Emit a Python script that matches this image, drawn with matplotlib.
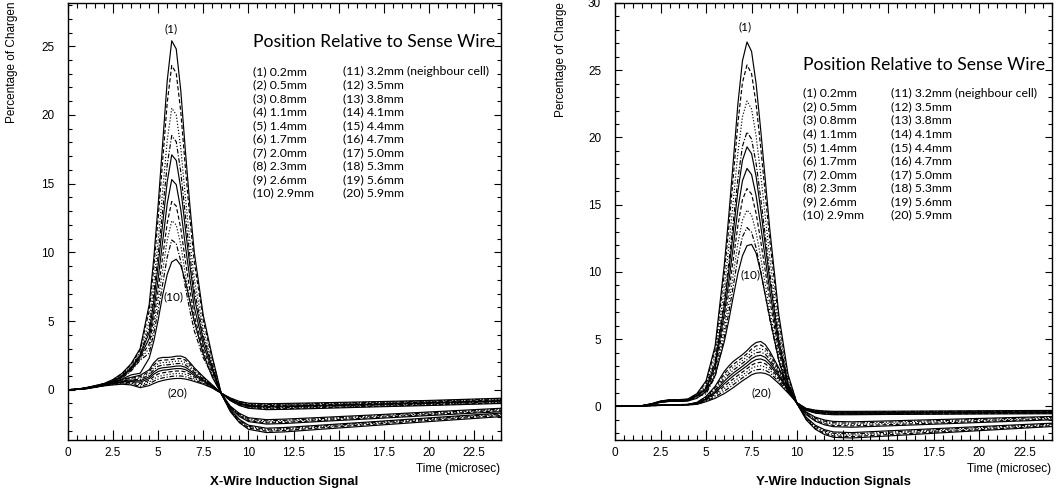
import matplotlib
matplotlib.use("Agg")
import matplotlib.pyplot as plt
from matplotlib.ticker import MultipleLocator, FuncFormatter

plt.rcParams['font.family'] = ['Liberation Sans', 'DejaVu Sans']

# time grids (microsec)
t_x = [0, 0.5, 1, 1.5, 2, 2.5, 3, 3.5, 4, 4.5, 4.75, 5, 5.25, 5.5, 5.75, 6, 6.25, 6.5,
       6.75, 7, 7.5, 8, 8.5, 9, 9.5, 10, 11, 12, 14, 17, 20, 24]
t_y = [0, 1, 1.5, 2, 2.5, 3, 3.5, 4, 4.5, 5, 5.5, 6, 6.25, 6.5, 6.75, 7, 7.25, 7.5, 7.75,
       8, 8.25, 8.5, 9, 9.5, 10, 10.5, 11, 11.5, 12, 13, 15, 18, 21, 24]

# X-wire, positions (1)-(10)
x_near = [
    [0, .03, .1, .25, .45, .75, 1.2, 1.9, 3.0, 6.2, 9.5, 13.5, 18.0, 22.5, 25.4, 24.8, 21.8, 17.5, 13.5, 10.0, 5.4, 2.4, -.3, -1.6, -2.4, -2.88, -3.12, -3.07, -2.88, -2.6, -2.32, -1.96],
    [0, .03, .1, .24, .43, .72, 1.16, 1.83, 2.9, 5.76, 8.83, 12.54, 16.72, 20.9, 23.6, 23.04, 20.25, 16.26, 12.54, 9.29, 5.02, 2.23, -.3, -1.55, -2.32, -2.79, -3.02, -2.97, -2.78, -2.51, -2.23, -1.88],
    [0, .03, .09, .23, .41, .68, 1.08, 1.72, 2.71, 5.0, 7.67, 10.9, 14.53, 18.16, 20.5, 20.01, 17.59, 14.12, 10.9, 8.07, 4.36, 1.94, -.3, -1.52, -2.27, -2.72, -2.95, -2.9, -2.72, -2.45, -2.17, -1.82],
    [0, .03, .09, .22, .39, .65, 1.04, 1.64, 2.59, 4.51, 6.92, 9.83, 13.1, 16.38, 18.5, 18.05, 15.87, 12.74, 9.83, 7.28, 3.93, 1.75, -.3, -1.48, -2.22, -2.66, -2.88, -2.83, -2.65, -2.38, -2.11, -1.76],
    [0, .03, .08, .21, .38, .63, 1.0, 1.59, 2.51, 4.17, 6.39, 9.09, 12.11, 15.14, 17.1, 16.69, 14.67, 11.78, 9.09, 6.73, 3.63, 1.62, -.3, -1.45, -2.16, -2.58, -2.8, -2.75, -2.58, -2.32, -2.05, -1.7],
    [0, .02, .08, .2, .36, .6, .96, 1.52, 2.4, 3.73, 5.72, 8.13, 10.84, 13.55, 15.3, 14.93, 13.12, 10.54, 8.13, 6.02, 3.25, 1.44, -.3, -1.33, -1.95, -2.32, -2.5, -2.46, -2.31, -2.1, -1.88, -1.6],
    [0, .02, .08, .19, .35, .58, .92, 1.46, 2.31, 3.34, 5.12, 7.28, 9.7, 12.13, 13.7, 13.37, 11.75, 9.43, 7.28, 5.39, 2.91, 1.29, -.3, -1.3, -1.89, -2.25, -2.42, -2.38, -2.24, -2.03, -1.81, -1.53],
    [0, .02, .07, .19, .33, .56, .89, 1.41, 2.23, 3.0, 4.6, 6.53, 8.71, 10.89, 12.3, 12.0, 10.55, 8.47, 6.53, 4.84, 2.61, 1.16, -.3, -1.27, -1.84, -2.19, -2.35, -2.31, -2.17, -1.97, -1.75, -1.47],
    [0, .02, .07, .18, .32, .54, .86, 1.36, 2.15, 2.66, 4.08, 5.79, 7.72, 9.65, 10.9, 10.64, 9.35, 7.51, 5.79, 4.29, 2.32, 1.03, -.3, -1.23, -1.78, -2.12, -2.27, -2.23, -2.1, -1.9, -1.69, -1.41],
    [0, .02, .07, .17, .3, .5, .78, 1.08, 1.2, 2.3, 3.5, 5.1, 6.9, 8.4, 9.3, 9.5, 9.05, 7.95, 6.45, 5.0, 2.6, .9, -.3, -1.2, -1.72, -2.04, -2.18, -2.14, -2.02, -1.83, -1.62, -1.35],
]

# X-wire, positions (11)-(20), neighbour cell
x_neigh = [
    [0, .04, .15, .3, .45, .6, .75, .9, 1.05, 1.45, 1.95, 2.28, 2.35, 2.35, 2.38, 2.44, 2.45, 2.33, 2.0, 1.6, .95, .35, -.26, -.8, -1.15, -1.35, -1.45, -1.43, -1.36, -1.25, -1.15, -1.0],
    [0, .04, .14, .29, .43, .57, .71, .84, .95, 1.32, 1.78, 2.09, 2.16, 2.17, 2.2, 2.26, 2.27, 2.16, 1.86, 1.49, .89, .32, -.26, -.78, -1.12, -1.31, -1.4, -1.38, -1.31, -1.21, -1.11, -.96],
    [0, .04, .14, .28, .41, .54, .67, .78, .85, 1.19, 1.62, 1.9, 1.98, 1.99, 2.03, 2.08, 2.09, 1.99, 1.71, 1.38, .83, .3, -.26, -.76, -1.08, -1.27, -1.35, -1.33, -1.27, -1.17, -1.07, -.92],
    [0, .04, .13, .27, .39, .52, .63, .72, .75, 1.07, 1.45, 1.71, 1.79, 1.81, 1.85, 1.9, 1.91, 1.81, 1.57, 1.27, .77, .27, -.26, -.73, -1.05, -1.23, -1.31, -1.29, -1.22, -1.12, -1.03, -.87],
    [0, .04, .13, .26, .37, .49, .59, .66, .65, .94, 1.28, 1.52, 1.6, 1.63, 1.67, 1.72, 1.73, 1.64, 1.42, 1.16, .71, .25, -.26, -.71, -1.02, -1.19, -1.26, -1.24, -1.18, -1.08, -.99, -.83],
    [0, .03, .12, .24, .36, .46, .56, .59, .55, .81, 1.12, 1.33, 1.42, 1.45, 1.5, 1.54, 1.54, 1.47, 1.28, 1.04, .64, .22, -.26, -.69, -.98, -1.14, -1.21, -1.19, -1.13, -1.04, -.94, -.79],
    [0, .03, .12, .23, .34, .43, .52, .53, .45, .68, .95, 1.15, 1.23, 1.28, 1.32, 1.36, 1.36, 1.3, 1.13, .93, .58, .2, -.26, -.67, -.95, -1.1, -1.16, -1.14, -1.09, -1.0, -.9, -.75],
    [0, .03, .11, .22, .32, .41, .48, .47, .35, .56, .78, .96, 1.04, 1.1, 1.14, 1.18, 1.18, 1.12, .99, .82, .52, .17, -.26, -.64, -.92, -1.06, -1.12, -1.1, -1.04, -.95, -.86, -.7],
    [0, .03, .11, .21, .3, .38, .44, .41, .25, .43, .62, .77, .86, .92, .97, 1.0, 1.0, .95, .84, .71, .46, .15, -.26, -.62, -.88, -1.02, -1.07, -1.05, -1.0, -.91, -.82, -.66],
    [0, .03, .1, .2, .28, .35, .4, .35, .15, .3, .45, .58, .67, .74, .79, .82, .82, .78, .7, .6, .4, .12, -.26, -.6, -.85, -.98, -1.02, -1.0, -.95, -.87, -.78, -.62],
]

# Y-wire, positions (1)-(10)
y_near = [
    [0, .02, .06, .2, .4, .5, .5, .55, .95, 1.9, 4.5, 10.5, 14.2, 18.3, 22.5, 25.7, 27.1, 26.4, 24.0, 20.6, 16.9, 13.2, 6.8, 2.4, .2, -1.0, -1.7, -2.09, -2.3, -2.35, -2.2, -1.96, -1.73, -1.5],
    [0, .02, .06, .19, .39, .48, .48, .53, .92, 1.78, 4.22, 9.84, 13.31, 17.15, 21.08, 24.08, 25.39, 24.74, 22.49, 19.3, 15.84, 12.37, 6.37, 2.25, .2, -.95, -1.63, -2.0, -2.2, -2.25, -2.1, -1.88, -1.66, -1.44],
    [0, .02, .06, .18, .37, .46, .46, .51, .87, 1.59, 3.77, 8.8, 11.9, 15.34, 18.86, 21.54, 22.71, 22.12, 20.11, 17.26, 14.16, 11.06, 5.7, 2.01, .2, -.9, -1.55, -1.91, -2.1, -2.15, -2.01, -1.8, -1.59, -1.38],
    [0, .02, .05, .18, .35, .44, .44, .48, .83, 1.43, 3.39, 7.91, 10.69, 13.78, 16.94, 19.35, 20.41, 19.88, 18.07, 15.51, 12.73, 9.94, 5.12, 1.81, .2, -.85, -1.48, -1.82, -2.0, -2.05, -1.92, -1.71, -1.51, -1.31],
    [0, .02, .05, .17, .34, .43, .43, .47, .81, 1.35, 3.2, 7.48, 10.11, 13.03, 16.02, 18.3, 19.3, 18.8, 17.09, 14.67, 12.03, 9.4, 4.84, 1.71, .2, -.81, -1.4, -1.73, -1.9, -1.95, -1.82, -1.63, -1.44, -1.25],
    [0, .02, .05, .17, .33, .41, .41, .45, .79, 1.24, 2.94, 6.86, 9.27, 11.95, 14.69, 16.78, 17.7, 17.24, 15.67, 13.45, 11.04, 8.62, 4.44, 1.57, .2, -.61, -1.1, -1.37, -1.51, -1.55, -1.45, -1.3, -1.15, -1.0],
    [0, .02, .05, .16, .32, .4, .4, .44, .76, 1.14, 2.69, 6.28, 8.49, 10.94, 13.46, 15.37, 16.2, 15.79, 14.35, 12.32, 10.11, 7.89, 4.07, 1.44, .2, -.57, -1.03, -1.28, -1.42, -1.45, -1.36, -1.22, -1.08, -.94],
    [0, .02, .05, .15, .31, .38, .38, .42, .73, 1.02, 2.43, 5.66, 7.65, 9.86, 12.13, 13.85, 14.6, 14.23, 12.94, 11.1, 9.11, 7.11, 3.67, 1.29, .2, -.52, -.95, -1.19, -1.32, -1.35, -1.27, -1.14, -1.01, -.88],
    [0, .01, .04, .15, .3, .37, .37, .41, .71, .93, 2.21, 5.16, 6.97, 8.99, 11.05, 12.62, 13.3, 12.96, 11.78, 10.11, 8.3, 6.48, 3.34, 1.18, .2, -.47, -.88, -1.1, -1.22, -1.25, -1.17, -1.05, -.93, -.81],
    [0, .02, .05, .15, .3, .37, .37, .4, .6, 1.1, 2.3, 4.8, 6.4, 8.2, 9.9, 11.2, 11.95, 12.05, 11.4, 10.0, 8.3, 6.6, 3.4, 1.3, .2, -.42, -.8, -1.01, -1.12, -1.15, -1.08, -.97, -.86, -.75],
]

# Y-wire, positions (11)-(20), neighbour cell
y_neigh = [
    [0, .02, .05, .08, .1, .12, .13, .15, .3, .74, 1.5, 2.6, 3.0, 3.35, 3.6, 3.85, 4.15, 4.5, 4.75, 4.83, 4.6, 4.1, 2.85, 1.5, .25, -.3, -.5, -.58, -.62, -.62, -.6, -.58, -.56, -.55],
    [0, .02, .05, .08, .1, .12, .13, .15, .28, .7, 1.4, 2.42, 2.8, 3.13, 3.38, 3.63, 3.92, 4.26, 4.5, 4.57, 4.36, 3.9, 2.72, 1.44, .25, -.28, -.48, -.55, -.59, -.59, -.57, -.55, -.53, -.52],
    [0, .02, .05, .07, .09, .11, .12, .14, .27, .65, 1.3, 2.23, 2.59, 2.92, 3.17, 3.42, 3.7, 4.02, 4.24, 4.31, 4.12, 3.7, 2.59, 1.39, .25, -.27, -.45, -.53, -.56, -.56, -.55, -.53, -.51, -.49],
    [0, .02, .04, .07, .09, .11, .12, .14, .25, .61, 1.2, 2.05, 2.39, 2.7, 2.95, 3.2, 3.47, 3.78, 3.99, 4.05, 3.88, 3.5, 2.47, 1.33, .25, -.25, -.43, -.5, -.54, -.54, -.52, -.5, -.48, -.47],
    [0, .02, .04, .07, .09, .11, .12, .13, .23, .57, 1.1, 1.87, 2.19, 2.48, 2.73, 2.98, 3.25, 3.55, 3.74, 3.8, 3.65, 3.3, 2.34, 1.28, .25, -.23, -.4, -.47, -.51, -.51, -.49, -.47, -.45, -.44],
    [0, .01, .04, .06, .08, .1, .11, .13, .22, .52, 1.0, 1.68, 1.98, 2.27, 2.52, 2.77, 3.02, 3.3, 3.48, 3.53, 3.4, 3.1, 2.21, 1.22, .25, -.22, -.38, -.45, -.48, -.48, -.47, -.45, -.43, -.41],
    [0, .01, .04, .06, .08, .1, .11, .12, .2, .48, .9, 1.5, 1.78, 2.05, 2.3, 2.55, 2.8, 3.07, 3.23, 3.28, 3.17, 2.9, 2.08, 1.17, .25, -.2, -.35, -.42, -.45, -.45, -.44, -.42, -.4, -.38],
    [0, .01, .03, .06, .08, .1, .11, .12, .18, .44, .8, 1.32, 1.58, 1.83, 2.08, 2.33, 2.57, 2.83, 2.98, 3.02, 2.93, 2.7, 1.96, 1.11, .25, -.18, -.33, -.39, -.43, -.43, -.41, -.39, -.37, -.36],
    [0, .01, .03, .05, .07, .09, .1, .11, .17, .39, .7, 1.13, 1.37, 1.62, 1.87, 2.12, 2.35, 2.59, 2.72, 2.76, 2.69, 2.5, 1.83, 1.06, .25, -.17, -.3, -.37, -.4, -.4, -.39, -.37, -.35, -.33],
    [0, .01, .03, .05, .07, .09, .1, .11, .15, .35, .6, .95, 1.17, 1.4, 1.65, 1.9, 2.12, 2.35, 2.47, 2.5, 2.45, 2.3, 1.7, 1.0, .25, -.15, -.28, -.34, -.37, -.37, -.36, -.34, -.32, -.3],
]

left_col = ["(1) 0.2mm", "(2) 0.5mm", "(3) 0.8mm", "(4) 1.1mm", "(5) 1.4mm",
            "(6) 1.7mm", "(7) 2.0mm", "(8) 2.3mm", "(9) 2.6mm", "(10) 2.9mm"]
right_col = ["(11) 3.2mm (neighbour cell)", "(12) 3.5mm", "(13) 3.8mm", "(14) 4.1mm",
             "(15) 4.4mm", "(16) 4.7mm", "(17) 5.0mm", "(18) 5.3mm", "(19) 5.6mm", "(20) 5.9mm"]

# line style of each curve inside a group of ten
dot = (0, (1, 1.6))
dash = (0, (3.5, 2))
dashdot = (0, (4, 1.5, 1, 1.5))
styles = ['-', dash, dot, dashdot, '-', '-', dash, dot, dashdot, '-']

legend_font = ['Lato', 'DejaVu Sans']

fig = plt.figure(figsize=(10.56, 4.92), dpi=100)
ax1 = fig.add_axes([68/1056, 1-440/492, 433/1056, 437/492])
ax2 = fig.add_axes([615/1056, 1-440/492, 437/1056, 437/492])


def draw(ax, t, near, neigh, ylim, marks, leg):
    for i, v in enumerate(near):
        ax.plot(t, v, color='black', lw=0.85, ls=styles[i])
    for i, v in enumerate(neigh):
        ax.plot(t, v, color='black', lw=0.85, ls=styles[i])
    ax.set_xlim(0, 24)
    ax.set_ylim(*ylim)
    ax.xaxis.set_major_locator(MultipleLocator(2.5))
    ax.xaxis.set_minor_locator(MultipleLocator(0.5))
    ax.yaxis.set_major_locator(MultipleLocator(5))
    ax.yaxis.set_minor_locator(MultipleLocator(1))
    ax.xaxis.set_major_formatter(FuncFormatter(lambda v, p: '%g' % v))
    ax.yaxis.set_major_formatter(FuncFormatter(lambda v, p: '%g' % v))
    ax.tick_params(which='both', direction='in', top=True, right=True, width=0.8,
                   labelsize=8.5)
    ax.tick_params(axis='x', which='major', length=7, pad=5)
    ax.tick_params(axis='x', which='minor', length=3.5)
    ax.tick_params(axis='y', which='major', length=5, pad=10)
    ax.tick_params(axis='y', which='minor', length=3)
    for s in ax.spines.values():
        s.set_linewidth(1.0)
    for txt, x, y in marks:
        ax.text(x, y, txt, ha='center', va='center', fontsize=8.5, family=legend_font)
    tx, ty, cx, ry, dy = leg
    ax.text(tx, ty, "Position Relative to Sense Wire", transform=ax.transAxes,
            ha='left', va='center', fontsize=12.6, family=legend_font)
    for j in range(10):
        ax.text(tx, ry - j*dy, left_col[j], transform=ax.transAxes, ha='left',
                va='center', fontsize=8.8, family=legend_font)
        ax.text(cx, ry - j*dy, right_col[j], transform=ax.transAxes, ha='left',
                va='center', fontsize=8.8, family=legend_font)


draw(ax1, t_x, x_near, x_neigh, (-3.66, 28.15),
     [("(1)", 5.74, 26.25), ("(10)", 5.84, 6.77), ("(20)", 6.04, -0.22)],
     (0.4266, 0.9115, 0.6358, 0.8428, 0.0309))
draw(ax2, t_y, y_near, y_neigh, (-2.5, 30),
     [("(1)", 7.14, 28.2), ("(10)", 7.45, 9.79), ("(20)", 8.06, 1.04)],
     (0.4295, 0.858, 0.6316, 0.7934, 0.0309))

fig.text(12/1056, 1-123/492, "Percentage of Chargen", rotation=90, ha='center',
         va='bottom', fontsize=8.5)
fig.text(561/1056, 1-117/492, "Percentage of Charge", rotation=90, ha='center',
         va='bottom', fontsize=8.5)
fig.text(500/1056, 1-469/492, "Time (microsec)", ha='right', va='center', fontsize=8.5)
fig.text(1051/1056, 1-469/492, "Time (microsec)", ha='right', va='center', fontsize=8.5)
fig.text(284/1056, 1-482/492, "X-Wire Induction Signal", ha='center', va='center',
         fontsize=9.5, fontweight='bold')
fig.text(833/1056, 1-482/492, "Y-Wire Induction Signals", ha='center', va='center',
         fontsize=9.5, fontweight='bold')

fig.savefig("out.png", dpi=100)
